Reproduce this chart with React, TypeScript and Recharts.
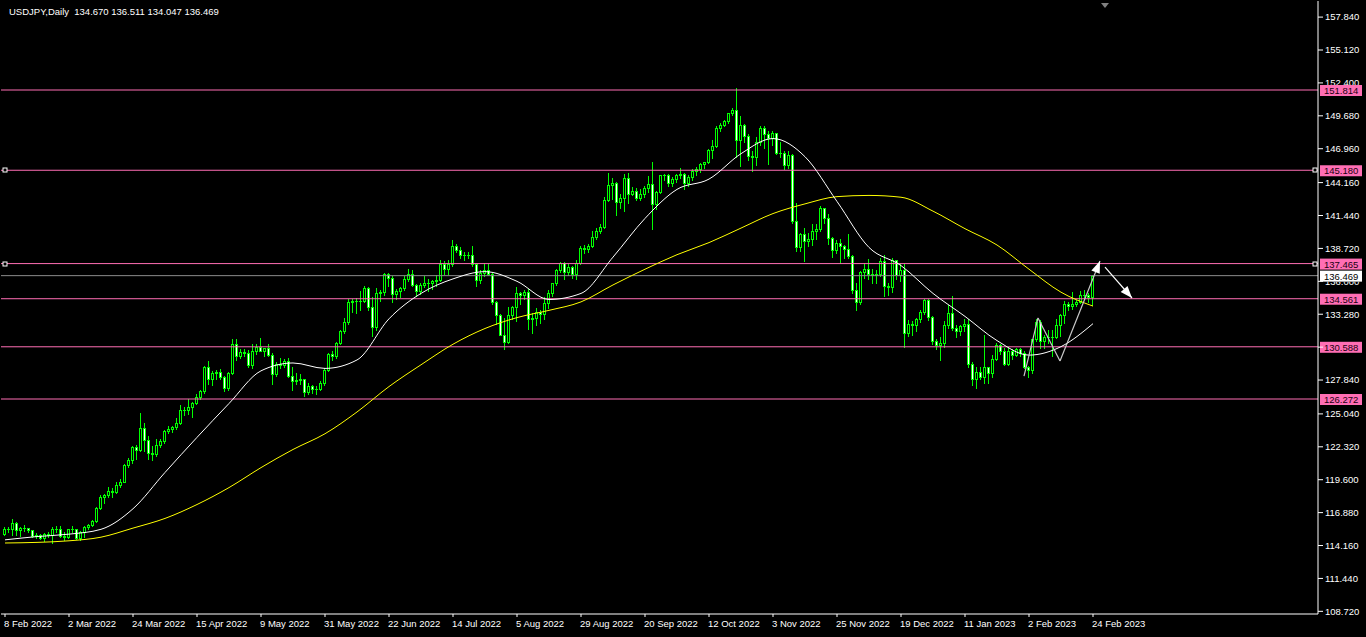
import { Bar, ComposedChart, Line, ReferenceDot, ReferenceLine, XAxis, YAxis } from "recharts";

// USDJPY daily, 8 Feb 2022 .. 24 Feb 2023 : [open, high, low, close]
const candles: [number, number, number, number][] = [
  // Feb 2022
  [115.10, 115.68, 115.05, 115.55], [115.55, 115.69, 115.30, 115.53], [115.53, 116.34, 115.05, 116.00],
  [116.00, 116.08, 115.02, 115.42], [115.42, 115.70, 114.95, 115.58], [115.58, 115.82, 115.35, 115.58],
  [115.58, 115.65, 115.30, 115.45], [115.45, 115.48, 114.86, 114.92], [114.92, 115.20, 114.78, 115.00],
  [115.00, 115.10, 114.70, 114.75], [114.75, 115.20, 114.51, 115.10], [115.10, 115.25, 114.90, 115.00],
  [115.00, 115.69, 114.41, 115.50], [115.50, 115.76, 115.25, 115.55], [115.55, 115.75, 114.88, 114.95],
  // Mar 2022
  [114.95, 115.25, 114.65, 114.88], [114.88, 115.55, 114.75, 115.50], [115.50, 115.80, 115.30, 115.50],
  [115.50, 115.55, 114.70, 114.80], [114.80, 115.40, 114.65, 115.30], [115.30, 115.80, 114.85, 115.70],
  [115.70, 115.95, 115.55, 115.85], [115.85, 116.25, 115.75, 116.15], [116.15, 117.35, 116.10, 117.30],
  [117.30, 118.30, 117.20, 118.20], [118.20, 118.45, 117.70, 118.30], [118.30, 119.00, 118.15, 118.70],
  [118.70, 118.90, 118.20, 118.60], [118.60, 119.40, 118.50, 119.20], [119.20, 119.70, 119.00, 119.45],
  [119.45, 120.90, 119.40, 120.80], [120.80, 121.40, 120.65, 121.20], [121.20, 122.40, 121.00, 122.30],
  [122.30, 122.45, 121.30, 122.05], [122.05, 125.10, 122.00, 123.85], [123.85, 124.30, 121.95, 122.85],
  [122.85, 123.20, 121.30, 121.80], [121.80, 122.40, 121.25, 121.70],
  // Apr 2022
  [121.70, 122.95, 121.55, 122.50], [122.50, 123.00, 122.30, 122.80], [122.80, 123.70, 122.60, 123.60],
  [123.60, 124.00, 123.50, 123.80], [123.80, 124.05, 123.55, 123.95], [123.95, 124.70, 123.80, 124.30],
  [124.30, 125.75, 124.20, 125.35], [125.35, 125.60, 124.95, 125.40], [125.40, 126.30, 125.00, 125.60],
  [125.60, 126.00, 124.80, 125.95], [125.95, 126.70, 125.85, 126.45], [126.45, 127.00, 126.25, 126.95],
  [126.95, 129.00, 126.80, 128.90], [128.90, 129.40, 127.50, 127.90], [127.90, 128.60, 127.45, 128.40],
  [128.40, 128.70, 127.95, 128.50], [128.50, 128.75, 127.90, 128.10], [128.10, 128.20, 126.95, 127.20],
  [127.20, 128.50, 127.05, 128.40], [128.40, 131.20, 128.30, 130.80], [130.80, 131.25, 129.50, 129.80],
  // May 2022
  [129.80, 130.40, 129.70, 130.15], [130.15, 130.40, 129.80, 130.10], [130.10, 130.35, 128.95, 129.10],
  [129.10, 130.80, 128.80, 130.20], [130.20, 130.80, 130.00, 130.55], [130.55, 131.35, 130.20, 130.25],
  [130.25, 130.50, 129.80, 130.45], [130.45, 130.80, 129.80, 129.95], [129.95, 130.05, 127.50, 128.30],
  [128.30, 129.35, 128.20, 129.20], [129.20, 129.70, 128.80, 129.10], [129.10, 129.60, 128.90, 129.40],
  [129.40, 129.65, 128.10, 128.20], [128.20, 128.95, 127.00, 127.80], [127.80, 128.40, 127.50, 127.85],
  [127.85, 128.30, 127.50, 127.90], [127.90, 127.95, 126.55, 126.85], [126.85, 127.60, 126.65, 127.35],
  [127.35, 127.45, 126.80, 127.10], [127.10, 127.35, 126.70, 127.10], [127.10, 127.80, 127.00, 127.60],
  [127.60, 128.80, 127.40, 128.70],
  // Jun 2022
  [128.70, 130.10, 128.60, 130.00], [130.00, 130.20, 129.50, 129.80], [129.80, 131.00, 129.70, 130.90],
  [130.90, 132.00, 130.80, 131.90], [131.90, 133.00, 131.70, 132.65], [132.65, 134.50, 132.50, 134.25],
  [134.25, 134.55, 133.50, 134.40], [134.40, 134.60, 133.40, 134.40], [134.40, 135.20, 133.60, 134.40],
  [134.40, 135.60, 134.30, 135.45], [135.45, 135.55, 133.60, 133.90], [133.90, 134.70, 131.50, 132.20],
  [132.20, 135.45, 132.00, 135.00], [135.00, 135.30, 134.40, 135.10], [135.10, 136.70, 134.90, 136.60],
  [136.60, 136.70, 135.60, 136.25], [136.25, 136.40, 134.25, 134.95], [134.95, 135.40, 134.55, 135.20],
  [135.20, 135.55, 134.70, 135.45], [135.45, 136.40, 135.30, 136.15], [136.15, 137.00, 136.05, 136.60],
  [136.60, 136.95, 135.60, 135.70],
  // Jul 2022
  [135.70, 135.80, 134.75, 135.20], [135.20, 135.85, 134.95, 135.70], [135.70, 136.40, 135.50, 135.90],
  [135.90, 136.20, 135.20, 135.90], [135.90, 136.10, 135.40, 136.00], [136.00, 136.55, 135.60, 136.10],
  [136.10, 137.75, 136.00, 137.40], [137.40, 137.70, 136.60, 137.00], [137.00, 137.80, 136.60, 137.40],
  [137.40, 139.40, 137.30, 138.95], [138.95, 139.10, 138.40, 138.55], [138.55, 138.80, 137.95, 138.15],
  [138.15, 138.40, 137.80, 138.20], [138.20, 138.40, 137.90, 138.20], [138.20, 138.90, 137.30, 137.40],
  [137.40, 137.50, 135.60, 136.10], [136.10, 136.90, 135.90, 136.65], [136.65, 137.50, 136.40, 136.90],
  [136.90, 137.45, 136.50, 136.60], [136.60, 136.70, 134.10, 134.25], [134.25, 134.35, 132.50, 133.25],
  // Aug 2022
  [133.25, 133.30, 131.60, 131.60], [131.60, 133.00, 130.40, 131.00], [131.00, 133.90, 130.90, 133.20],
  [133.20, 134.00, 132.90, 133.90], [133.90, 135.50, 132.70, 135.00], [135.00, 135.10, 134.10, 134.90],
  [134.90, 135.30, 134.50, 135.10], [135.10, 135.40, 132.05, 132.90], [132.90, 133.40, 131.70, 133.00],
  [133.00, 133.80, 132.40, 133.50], [133.50, 133.60, 132.55, 133.30], [133.30, 134.70, 132.90, 134.20],
  [134.20, 135.30, 133.80, 135.00], [135.00, 135.90, 134.80, 135.90], [135.90, 137.00, 135.70, 136.90],
  [136.90, 137.60, 136.80, 137.50], [137.50, 137.60, 136.20, 136.80], [136.80, 137.40, 136.50, 137.20],
  [137.20, 137.30, 136.30, 136.60], [136.60, 137.80, 136.20, 137.50], [137.50, 138.90, 137.40, 138.75],
  [138.75, 139.00, 138.30, 138.70], [138.70, 139.10, 138.40, 138.95],
  // Sep 2022
  [138.95, 140.20, 138.80, 139.65], [139.65, 140.40, 139.50, 140.20], [140.20, 140.70, 140.00, 140.50],
  [140.50, 143.00, 140.40, 142.75], [142.75, 144.99, 142.60, 144.00], [144.00, 144.50, 142.80, 144.10],
  [144.10, 144.20, 141.50, 142.55], [142.55, 143.20, 142.10, 142.85], [142.85, 144.90, 141.80, 144.55],
  [144.55, 144.95, 142.50, 143.20], [143.20, 143.80, 143.10, 143.50], [143.50, 143.70, 142.70, 142.90],
  [142.90, 143.60, 142.70, 143.20], [143.20, 143.90, 143.00, 143.70], [143.70, 144.70, 143.40, 144.05],
  [144.05, 145.90, 140.35, 142.35], [142.35, 143.50, 142.00, 143.35], [143.35, 144.80, 143.30, 144.75],
  [144.75, 144.90, 144.40, 144.75], [144.75, 144.85, 143.90, 144.15], [144.15, 144.65, 143.90, 144.45],
  [144.45, 144.90, 144.20, 144.75],
  // Oct 2022
  [144.75, 145.40, 144.50, 144.85], [144.85, 144.95, 143.60, 144.15], [144.15, 144.80, 143.85, 144.60],
  [144.60, 145.25, 144.40, 145.10], [145.10, 145.45, 144.80, 145.30], [145.30, 145.75, 145.00, 145.70],
  [145.70, 145.90, 145.35, 145.85], [145.85, 146.95, 145.75, 146.85], [146.85, 147.65, 146.20, 147.20],
  [147.20, 148.85, 147.10, 148.70], [148.70, 149.10, 148.40, 148.95], [148.95, 149.30, 148.80, 149.25],
  [149.25, 149.95, 149.10, 149.90], [149.90, 150.30, 149.75, 150.15], [150.15, 151.95, 146.25, 147.65],
  [147.65, 149.70, 145.50, 148.95], [148.95, 149.00, 147.50, 148.05], [148.05, 148.20, 146.00, 146.35],
  [146.35, 146.80, 145.10, 146.25], [146.25, 147.90, 145.60, 147.50], [147.50, 148.80, 147.30, 148.70],
  // Nov 2022
  [148.70, 148.85, 147.00, 148.15], [148.15, 148.40, 145.70, 147.85], [147.85, 148.40, 147.30, 148.25],
  [148.25, 148.30, 146.50, 146.60], [146.60, 147.50, 146.30, 146.60], [146.60, 146.80, 145.30, 145.65],
  [145.65, 146.75, 145.35, 146.40], [146.40, 146.55, 140.85, 141.00], [141.00, 142.50, 138.50, 138.80],
  [138.80, 140.00, 138.50, 139.90], [139.90, 140.40, 137.70, 139.30], [139.30, 140.00, 138.90, 139.50],
  [139.50, 140.70, 139.00, 140.20], [140.20, 140.70, 139.50, 140.35], [140.35, 142.25, 140.20, 142.10],
  [142.10, 142.10, 140.80, 141.20], [141.20, 141.60, 139.10, 139.60], [139.60, 139.70, 138.05, 138.60],
  [138.60, 139.40, 138.35, 139.20], [139.20, 139.50, 137.50, 138.95], [138.95, 139.00, 137.90, 138.70],
  [138.70, 139.90, 137.95, 138.10],
  // Dec 2022
  [138.10, 138.20, 135.00, 135.30], [135.30, 135.90, 133.60, 134.30], [134.30, 136.85, 134.10, 136.75],
  [136.75, 137.50, 136.30, 137.05], [137.05, 137.85, 136.20, 136.60], [136.60, 137.00, 135.90, 136.55],
  [136.55, 136.90, 135.90, 136.60], [136.60, 137.90, 136.40, 137.70], [137.70, 138.15, 134.80, 135.60],
  [135.60, 135.90, 134.90, 135.50], [135.50, 137.90, 135.10, 137.75], [137.75, 137.80, 136.20, 136.55],
  [136.55, 137.40, 136.00, 136.90], [136.90, 137.45, 130.60, 131.75], [131.75, 132.80, 131.50, 132.45],
  [132.45, 132.70, 131.60, 132.40], [132.40, 132.95, 131.90, 132.85], [132.85, 133.60, 132.60, 133.50],
  [133.50, 134.50, 133.30, 134.45], [134.45, 134.50, 132.80, 133.05], [133.05, 133.15, 130.80, 131.10],
  // Jan 2023
  [131.10, 131.20, 130.40, 130.70], [130.70, 131.40, 129.50, 130.90], [130.90, 132.70, 130.60, 132.40],
  [132.40, 134.05, 132.10, 133.40], [133.40, 134.75, 132.00, 132.10], [132.10, 132.35, 131.40, 131.90],
  [131.90, 132.40, 131.55, 132.30], [132.30, 132.90, 131.90, 132.45], [132.45, 132.85, 128.90, 129.20],
  [129.20, 129.30, 127.45, 127.90], [127.90, 128.90, 127.20, 128.50], [128.50, 128.90, 127.90, 128.10],
  [128.10, 131.55, 127.60, 128.90], [128.90, 128.95, 127.60, 128.40], [128.40, 129.90, 128.10, 129.60],
  [129.60, 130.90, 129.50, 130.70], [130.70, 130.80, 130.00, 130.20], [130.20, 130.50, 129.10, 129.20],
  [129.20, 130.60, 129.05, 130.20], [130.20, 130.40, 129.60, 129.90], [129.90, 130.50, 129.80, 130.40],
  [130.40, 130.50, 129.80, 130.10],
  // Feb 2023
  [130.10, 130.20, 128.80, 128.90], [128.90, 129.00, 128.10, 128.70], [128.70, 131.20, 128.40, 131.20],
  [131.20, 132.90, 131.10, 132.60], [132.60, 132.80, 130.50, 131.10], [131.10, 131.60, 130.50, 131.40],
  [131.40, 132.00, 130.90, 131.40], [131.40, 132.00, 129.80, 131.40], [131.40, 132.90, 131.30, 132.40],
  [132.40, 133.30, 131.50, 133.20], [133.20, 134.35, 132.55, 134.15], [134.15, 134.30, 133.60, 133.95],
  [133.95, 135.10, 133.70, 134.15], [134.15, 134.45, 134.00, 134.30], [134.30, 135.20, 134.20, 134.90],
  [134.90, 135.25, 134.50, 134.90], [134.90, 135.00, 134.30, 134.67], [134.67, 136.511, 134.047, 136.469],
];

// one label every 16 bars
const dateTicks = [
  "8 Feb 2022", "2 Mar 2022", "24 Mar 2022", "15 Apr 2022", "9 May 2022", "31 May 2022",
  "22 Jun 2022", "14 Jul 2022", "5 Aug 2022", "29 Aug 2022", "20 Sep 2022", "12 Oct 2022",
  "3 Nov 2022", "25 Nov 2022", "19 Dec 2022", "11 Jan 2023", "2 Feb 2023", "24 Feb 2023",
];

const priceTicks = [
  157.84, 155.12, 152.4, 149.68, 146.96, 144.16, 141.44, 138.72, 136.0, 133.28,
  130.56, 127.84, 125.04, 122.32, 119.6, 116.88, 114.16, 111.44, 108.72,
];

// moving averages every 8th bar
const maFast = [
  114.63, 114.9, 115.1, 115.5, 117.2, 120.2, 123.1, 125.9, 128.6, 129.25,
  128.8, 129.5, 132.9, 135.0, 136.2, 136.8, 136.0, 134.5, 135.0, 138.0,
  141.2, 143.6, 144.45, 146.55, 147.8, 146.3, 142.6, 138.8, 137.3, 135.0,
  133.1, 131.1, 129.9, 130.6, 132.5,
];
const maSlow = [
  114.37, 114.42, 114.55, 114.85, 115.6, 116.4, 117.55, 118.95, 120.6, 122.1,
  123.4, 125.2, 127.3, 129.1, 130.8, 132.1, 133.0, 133.6, 134.3, 135.7,
  137.0, 138.2, 139.2, 140.4, 141.6, 142.4, 143.0, 143.1, 142.95, 141.8,
  140.35, 139.0, 137.0, 135.1, 133.95,
];

const levels = [151.814, 145.18, 137.465, 134.561, 130.588, 126.272];
const selectedLevels = [145.18, 137.465];
const bid = 136.469;

// hand-drawn zigzag and projection arrow (bar index, price)
const zigzagIdx = [254.75, 258.25, 263.75, 273.75];
const zigzagVal = [128.17, 132.97, 129.41, 137.68];
const arrowIdx = [275, 281.75];
const arrowVal = [137.18, 134.62];

const rows = candles.map(([o, h, l, c], i) => ({
  i, o, h, l, c,
  fast: i % 8 === 0 ? maFast[i / 8] : null,
  slow: i % 8 === 0 ? maSlow[i / 8] : null,
}));

const FONT = "'Liberation Sans', Arial, sans-serif";
const PINK = "#ff6eb4";
const LIME = "#00ff00";

// layout of the price scale, used to keep axis text out from under the price tags
const PLOT_TOP = 1;
const PLOT_BOTTOM = 614;
const Y_MIN = 108.5;
const Y_MAX = 159.171;
const PX_PER_UNIT = (PLOT_BOTTOM - PLOT_TOP) / (Y_MAX - Y_MIN);

const Candle = (props: any) => {
  const { x, y, width, height, payload } = props;
  const { o, h, l, c } = payload;
  const top = Math.min(y, y + height);
  const bot = Math.max(y, y + height);
  const span = h - l;
  const py = (v: number) => (span > 0 ? top + ((h - v) / span) * (bot - top) : top);
  const cx = Math.floor(x + width / 2 + 0.01);
  const bTop = Math.round(py(Math.max(o, c)));
  const bBot = Math.round(py(Math.min(o, c)));
  return (
    <g shapeRendering="crispEdges">
      <line x1={cx + 0.5} x2={cx + 0.5} y1={Math.round(top)} y2={Math.round(bot) + 1} stroke={LIME} />
      {bBot - bTop >= 1 ? (
        <rect x={cx - 0.5} y={bTop + 0.5} width={2} height={bBot - bTop} fill={c >= o ? "#000" : "#fff"} stroke={LIME} />
      ) : (
        <line x1={cx - 1} x2={cx + 2} y1={bTop + 0.5} y2={bTop + 0.5} stroke={LIME} />
      )}
    </g>
  );
};

const DateTick = (props: any) => {
  const { x, y, payload } = props;
  return (
    <text x={x - 1} y={y + 8} fill="#fff" fontSize={9.5} fontFamily={FONT}>
      {dateTicks[Math.round(payload.value / 16)]}
    </text>
  );
};

// price labels; the part that a price tag would cover is clipped away
const PriceTick = (props: any) => {
  const { x, y, payload, index } = props;
  const v = payload.value as number;
  const tags = [...levels, bid];
  const hit = tags.find((t) => Math.abs(v - t) * PX_PER_UNIT < 11);
  const label = (
    <text x={x} y={y} dy="0.355em" fill="#fff" fontSize={9.5} fontFamily={FONT}>
      {v.toFixed(3)}
    </text>
  );
  if (hit === undefined) return label;
  const tagY = y + (v - hit) * PX_PER_UNIT;
  const id = `clip-tick-${index}`;
  const clip =
    tagY > y ? { y0: y - 12, y1: tagY - 5 } : { y0: tagY + 6, y1: y + 12 };
  if (clip.y1 - clip.y0 < 1) return null;
  return (
    <g>
      <clipPath id={id}>
        <rect x={x - 2} y={clip.y0} width={50} height={clip.y1 - clip.y0} />
      </clipPath>
      <g clipPath={`url(#${id})`}>{label}</g>
    </g>
  );
};

const priceTag = (value: number, bg: string, fg: string) => (p: any) => {
  const { x, y, width } = p.viewBox;
  const left = x + width + 2;
  return (
    <g>
      <rect x={left} y={y - 5} width={42} height={11} fill={bg} />
      <text x={left + 4} y={y + 4} fill={fg} fontSize={9.5} fontFamily={FONT}>
        {value.toFixed(3)}
      </text>
    </g>
  );
};

const arrowShape = (color: string, head: boolean) => (p: any) => {
  const { x1, y1, x2, y2 } = p;
  const a = Math.atan2(y2 - y1, x2 - x1);
  const len = 12;
  const half = 4.5;
  const bx = x2 - len * Math.cos(a);
  const by = y2 - len * Math.sin(a);
  const pts = `${x2},${y2} ${bx - half * Math.sin(a)},${by + half * Math.cos(a)} ${bx + half * Math.sin(a)},${by - half * Math.cos(a)}`;
  return (
    <g>
      <line x1={x1} y1={y1} x2={x2} y2={y2} stroke={color} strokeWidth={1.2} />
      {head && <polygon points={pts} fill="#fff" />}
    </g>
  );
};

const square = (p: any) => (
  <rect x={Math.round(p.cx) - 2} y={Math.round(p.cy) - 2} width={4} height={4} fill="#000" stroke="#fff" strokeWidth={1} />
);

export default function App() {
  return (
    <div style={{ position: "relative", width: 1366, height: 637, background: "#000", overflow: "hidden" }}>
      <style>{`body{margin:0;background:#000}`}</style>
      <ComposedChart
        width={1366}
        height={637}
        data={rows}
        margin={{ top: PLOT_TOP, right: 0, bottom: 0, left: 1 }}
      >
        <XAxis
          type="number"
          dataKey="i"
          domain={[-1, 328.25]}
          allowDataOverflow
          ticks={dateTicks.map((_, k) => k * 16)}
          interval={0}
          height={637 - PLOT_BOTTOM}
          tickSize={3}
          tickMargin={2}
          axisLine={{ stroke: "#fff" }}
          tickLine={{ stroke: "#fff" }}
          tick={<DateTick />}
        />
        <YAxis
          orientation="right"
          domain={[Y_MIN, Y_MAX]}
          allowDataOverflow
          ticks={priceTicks}
          interval={0}
          width={48}
          tickSize={5}
          tickMargin={2}
          axisLine={{ stroke: "#fff" }}
          tickLine={{ stroke: "#fff" }}
          tick={<PriceTick />}
        />
        {levels.map((v) => (
          <ReferenceLine key={v} y={v} stroke={PINK} strokeWidth={1} label={priceTag(v, PINK, "#1a0010")} />
        ))}
        <ReferenceLine y={bid} stroke="#8c8c8c" strokeWidth={1} label={priceTag(bid, "#fff", "#000")} />
        <Bar dataKey={(d: any) => [d.l, d.h]} barSize={3} shape={<Candle />} isAnimationActive={false} />
        <Line dataKey="slow" type="monotone" stroke="#ffff00" strokeWidth={1} dot={false} connectNulls isAnimationActive={false} />
        <Line dataKey="fast" type="monotone" stroke="#ffffff" strokeWidth={1} dot={false} connectNulls isAnimationActive={false} />
        {zigzagIdx.slice(1).map((_, k) => (
          <ReferenceLine
            key={`z${k}`}
            segment={[
              { x: zigzagIdx[k], y: zigzagVal[k] },
              { x: zigzagIdx[k + 1], y: zigzagVal[k + 1] },
            ]}
            ifOverflow="visible"
            shape={arrowShape("#c8c8c8", k === zigzagIdx.length - 2)}
          />
        ))}
        <ReferenceLine
          segment={[
            { x: arrowIdx[0], y: arrowVal[0] },
            { x: arrowIdx[1], y: arrowVal[1] },
          ]}
          ifOverflow="visible"
          shape={arrowShape("#ffffff", true)}
        />
        {selectedLevels.map((v) => (
          <ReferenceDot key={`l${v}`} x={0} y={v} ifOverflow="visible" shape={square} />
        ))}
        {selectedLevels.map((v) => (
          <ReferenceDot key={`r${v}`} x={327.6} y={v} ifOverflow="visible" shape={square} />
        ))}
      </ComposedChart>
      <div
        style={{
          position: "absolute",
          left: 9,
          top: 6,
          color: "#fff",
          fontFamily: FONT,
          fontSize: 9.5,
          whiteSpace: "pre",
          lineHeight: "12px",
        }}
      >
        {"USDJPY,Daily  134.670 136.511 134.047 136.469"}
      </div>
      <div
        style={{
          position: "absolute",
          left: 1101,
          top: 3,
          width: 0,
          height: 0,
          borderLeft: "4px solid transparent",
          borderRight: "4px solid transparent",
          borderTop: "5px solid #808080",
        }}
      />
    </div>
  );
}
